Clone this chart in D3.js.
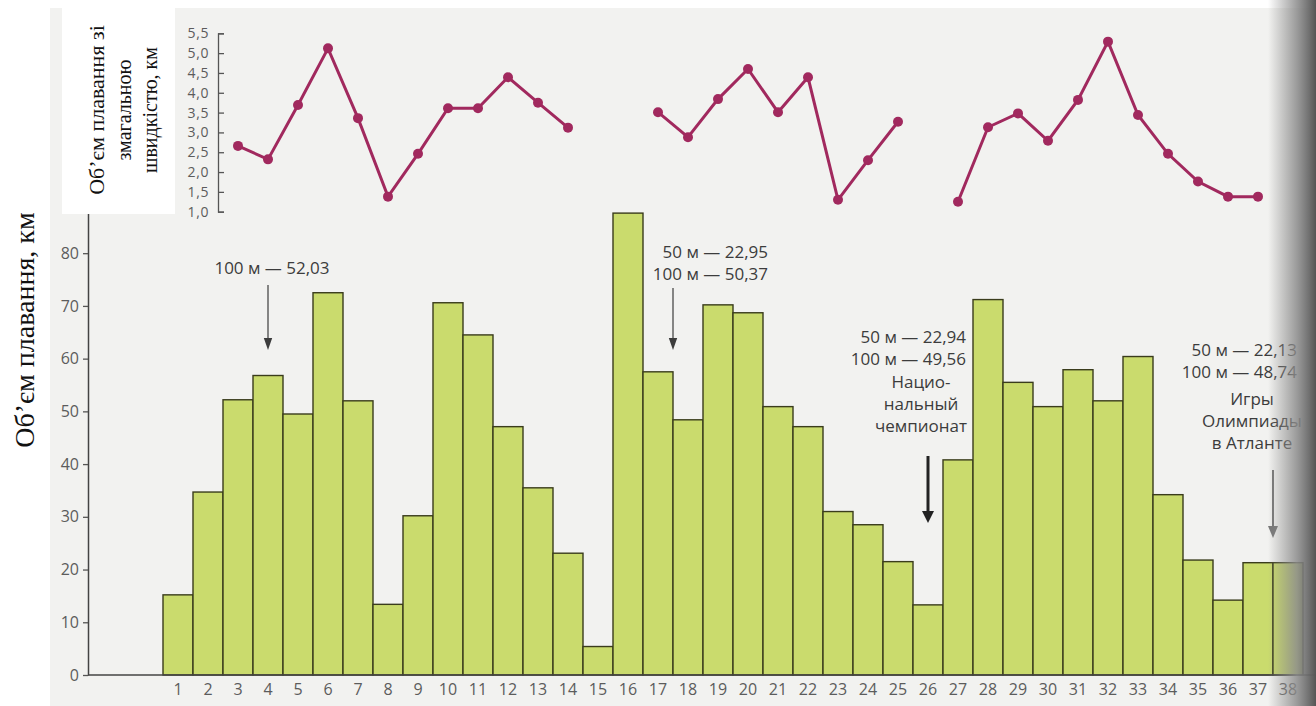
<!DOCTYPE html>
<html>
<head>
<meta charset="utf-8">
<script src="https://cdn.jsdelivr.net/npm/d3@7"></script>
<style>
  body { margin: 0; background: #fff; }
  svg { display: block; }
  .tick text { font-family: 'Open Sans', sans-serif; fill: #5c5c5c; }
  .note { font-family: 'Open Sans', sans-serif; font-size: 17px; fill: #3c3c3c; }
  .serif { font-family: 'Liberation Serif', 'Times New Roman', serif; fill: #111; }
</style>
</head>
<body>
<svg width="1316" height="706"></svg>
<script>
// weeks of the season
var weeks = [1, 2, 3, 4, 5, 6, 7, 8, 9, 10, 11, 12, 13, 14, 15, 16, 17, 18, 19,
  20, 21, 22, 23, 24, 25, 26, 27, 28, 29, 30, 31, 32, 33, 34, 35, 36, 37, 38];

// weekly swim volume, km
var volume = [15.2, 34.7, 52.2, 56.8, 49.5, 72.5, 52.0, 13.4, 30.2, 70.6,
  64.5, 47.1, 35.5, 23.1, 5.4, 87.6, 57.5, 48.4, 70.2, 68.7,
  50.9, 47.1, 31.0, 28.5, 21.5, 13.3, 40.8, 71.2, 55.5, 50.9,
  57.9, 52.0, 60.4, 34.2, 21.8, 14.2, 21.3, 21.3];

// volume at race pace, km (null = no value that week)
var raceVolume = [null, null, 2.66, 2.32, 3.69, 5.12, 3.36, 1.38, 2.46, 3.61,
  3.61, 4.39, 3.75, 3.12, null, null, 3.51, 2.88, 3.84, 4.60,
  3.51, 4.39, 1.30, 2.30, 3.27, null, 1.25, 3.13, 3.48, 2.79,
  3.82, 5.29, 3.44, 2.46, 1.76, 1.38, 1.38, null];

var volumeTicks = [0, 10, 20, 30, 40, 50, 60, 70, 80];
var raceTicks = [1.0, 1.5, 2.0, 2.5, 3.0, 3.5, 4.0, 4.5, 5.0, 5.5];

var svg = d3.select('svg');

var barColor = '#cadb6d';
var lineColor = '#a1295e';

// scanned page area
svg.append('rect')
  .attr('x', 50).attr('y', 8)
  .attr('width', 1266).attr('height', 698)
  .attr('fill', '#f2f2f0');

var x = d3.scaleBand()
  .domain(weeks)
  .range([163, 1303])
  .padding(0);

var y = d3.scaleLinear()
  .domain([0, 88])
  .range([675, 211]);

var ySpeed = d3.scaleLinear()
  .domain([1, 5.5])
  .range([211.7, 33.3]);

// bars
svg.append('g')
  .selectAll('rect')
  .data(weeks)
  .enter()
  .append('rect')
  .attr('x', function(d) { return x(d); })
  .attr('y', function(d, i) { return y(volume[i]); })
  .attr('width', x.bandwidth())
  .attr('height', function(d, i) { return y(0) - y(volume[i]); })
  .attr('fill', barColor)
  .attr('stroke', '#3a3c1c')
  .attr('stroke-width', 1.4);

// left axis
var yAxis = d3.axisLeft(y)
  .tickValues(volumeTicks)
  .tickSizeInner(5)
  .tickSizeOuter(0)
  .tickPadding(4);

var yAxisG = svg.append('g')
  .attr('transform', 'translate(88,0)')
  .call(yAxis);
yAxisG.select('.domain').attr('stroke', '#444').attr('stroke-width', 1.5);
yAxisG.selectAll('.tick line').attr('stroke', '#555').attr('stroke-width', 1.3);
yAxisG.selectAll('.tick text').style('font-size', '16px');

// bottom axis
svg.append('line')
  .attr('x1', 88).attr('x2', 1316)
  .attr('y1', y(0)).attr('y2', y(0))
  .attr('stroke', '#444')
  .attr('stroke-width', 1.5);

var xAxisG = svg.append('g')
  .attr('transform', 'translate(0,' + y(0) + ')')
  .call(d3.axisBottom(x).tickSize(0).tickPadding(9));
xAxisG.select('.domain').remove();
xAxisG.selectAll('.tick text').style('font-size', '16px');

// top chart: race pace volume
var ySpeedAxis = d3.axisLeft(ySpeed)
  .tickValues(raceTicks)
  .tickSizeInner(-6)
  .tickSizeOuter(-6)
  .tickPadding(9)
  .tickFormat(function(d) { return d3.format('.1f')(d).replace('.', ','); });

var speedG = svg.append('g')
  .attr('transform', 'translate(218,0)')
  .call(ySpeedAxis);
speedG.select('.domain').attr('stroke', '#555').attr('stroke-width', 1.3);
speedG.selectAll('.tick line').attr('stroke', '#555').attr('stroke-width', 1.3);
speedG.selectAll('.tick text')
  .style('font-size', '14px')
  .style('letter-spacing', '0.6px');

var cx = function(d) { return x(d) + x.bandwidth() / 2; };

var line = d3.line()
  .defined(function(d, i) { return raceVolume[i] !== null; })
  .x(function(d) { return cx(d); })
  .y(function(d, i) { return ySpeed(raceVolume[i]); });

svg.append('path')
  .datum(weeks)
  .attr('d', line)
  .attr('fill', 'none')
  .attr('stroke', lineColor)
  .attr('stroke-width', 3);

svg.append('g')
  .selectAll('circle')
  .data(weeks.filter(function(d, i) { return raceVolume[i] !== null; }))
  .enter()
  .append('circle')
  .attr('cx', function(d) { return cx(d); })
  .attr('cy', function(d) { return ySpeed(raceVolume[d - 1]); })
  .attr('r', 5)
  .attr('fill', lineColor);

// annotations
function noteLines(lines, tx, baseY, anchor) {
  lines.forEach(function(t, i) {
    svg.append('text')
      .attr('class', 'note')
      .attr('x', tx)
      .attr('y', baseY + i * 22)
      .attr('text-anchor', anchor)
      .text(t);
  });
}

function arrow(ax, y1, y2, w, color) {
  svg.append('line')
    .attr('x1', ax).attr('x2', ax)
    .attr('y1', y1).attr('y2', y2 - 8)
    .attr('stroke', color)
    .attr('stroke-width', w);
  var hw = 3 + w;
  svg.append('path')
    .attr('d', 'M' + (ax - hw) + ',' + (y2 - 12) + 'L' + (ax + hw) + ',' + (y2 - 12) + 'L' + ax + ',' + y2 + 'Z')
    .attr('fill', color);
}

noteLines(['100 м — 52,03'], 272, 274, 'middle');
arrow(268, 285, 350, 1.2, '#3c3c3c');

noteLines(['50 м — 22,95', '100 м — 50,37'], 768, 258, 'end');
arrow(673, 288, 350, 1.2, '#3c3c3c');

noteLines(['50 м — 22,94', '100 м — 49,56'], 966, 343, 'end');
noteLines(['Нацио-', 'нальный', 'чемпионат'], 921, 388, 'middle');
arrow(928, 456, 523, 3, '#222');

noteLines(['50 м — 22,13', '100 м — 48,74'], 1297, 356, 'end');
noteLines(['Игры', 'Олимпиады', 'в Атланте'], 1252, 405, 'middle');
arrow(1273, 470, 538, 2, '#777');

// white label box over the top of the axis
svg.append('rect')
  .attr('x', 62).attr('y', 8)
  .attr('width', 113).attr('height', 206)
  .attr('fill', '#fff');

var boxText = [
  {t: 'Об’єм плавання зі', size: 22, bx: 104},
  {t: 'змагальною', size: 20, bx: 131},
  {t: 'швидкістю, км', size: 20, bx: 157}
];
boxText.forEach(function(d) {
  svg.append('text')
    .attr('class', 'serif')
    .attr('transform', 'translate(' + d.bx + ',110) rotate(-90)')
    .attr('text-anchor', 'middle')
    .style('font-size', d.size + 'px')
    .text(d.t);
});

svg.append('text')
  .attr('class', 'serif')
  .attr('transform', 'translate(34,330) rotate(-90)')
  .attr('text-anchor', 'middle')
  .style('font-size', '28px')
  .text('Об’єм плавання, км');

// book binding shadow on the right edge
var grad = svg.append('defs').append('linearGradient')
  .attr('id', 'shade')
  .attr('x1', '0').attr('x2', '1').attr('y1', '0').attr('y2', '0');
grad.append('stop').attr('offset', '0').attr('stop-color', '#8c8c8c').attr('stop-opacity', 0);
grad.append('stop').attr('offset', '0.6').attr('stop-color', '#8c8c8c').attr('stop-opacity', 0.85);
grad.append('stop').attr('offset', '1').attr('stop-color', '#555').attr('stop-opacity', 1);

svg.append('rect')
  .attr('x', 1268).attr('y', 0)
  .attr('width', 48).attr('height', 706)
  .attr('fill', 'url(#shade)');
</script>
</body>
</html>
